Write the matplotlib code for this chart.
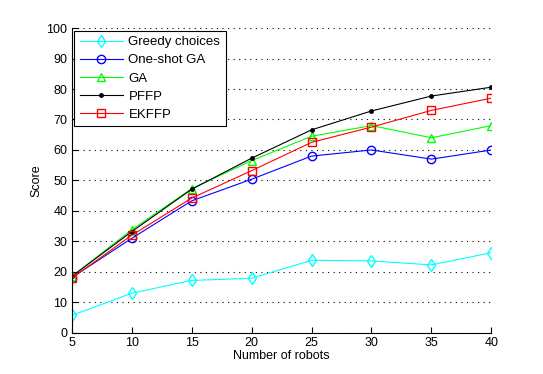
import matplotlib
matplotlib.use("Agg")
import matplotlib.pyplot as plt

robots = [5, 10, 15, 20, 25, 30, 35, 40]
greedy = [5.7, 13.0, 17.2, 17.9, 23.8, 23.6, 22.3, 26.3]
oneshot_ga = [18.1, 31.0, 43.3, 50.4, 58.0, 60.0, 57.0, 60.0]
ga = [18.5, 33.8, 47.3, 56.5, 64.5, 68.0, 64.0, 68.0]
pffp = [18.5, 33.2, 47.1, 57.3, 66.6, 72.8, 77.7, 80.6]
ekffp = [17.9, 32.0, 44.2, 53.2, 62.5, 67.5, 73.0, 77.0]

plt.rcParams['font.family'] = ['Liberation Sans', 'DejaVu Sans']
plt.rcParams['font.size'] = 9

fig = plt.figure(figsize=(5.43, 3.74), dpi=100)
ax = fig.add_axes([0.132, 0.11, 0.773, 0.815])

ax.plot(robots, greedy, color='cyan', marker='d', mfc='none', ms=6, lw=0.8, label='Greedy choices')
ax.plot(robots, oneshot_ga, color='blue', marker='o', mfc='none', ms=6, lw=0.8, label='One-shot GA')
ax.plot(robots, ga, color='lime', marker='^', mfc='none', ms=6, lw=0.8, label='GA')
ax.plot(robots, pffp, color='black', marker='.', ms=5, lw=0.8, label='PFFP')
ax.plot(robots, ekffp, color='red', marker='s', mfc='none', ms=6, lw=0.8, label='EKFFP')

ax.set_xlim(5, 40)
ax.set_ylim(0, 100)
ax.set_xticks(robots)
ax.set_yticks(range(0, 101, 10))
ax.grid(axis='y', linestyle=(0, (1, 4)), color='black', linewidth=0.8)
ax.tick_params(direction='in', length=4, width=0.8, colors='black', pad=3)
ax.spines['top'].set_visible(False)
ax.spines['right'].set_visible(False)
ax.set_xlabel('Number of robots', labelpad=1)
ax.set_ylabel('Score', labelpad=3)

leg = ax.legend(loc='upper left', fancybox=False, edgecolor='black', framealpha=1,
                borderaxespad=0.2, handlelength=3.3, handletextpad=0.4,
                labelspacing=0.45, fontsize=9.5)
leg.get_frame().set_linewidth(0.8)

fig.savefig('out.png', dpi=100)
